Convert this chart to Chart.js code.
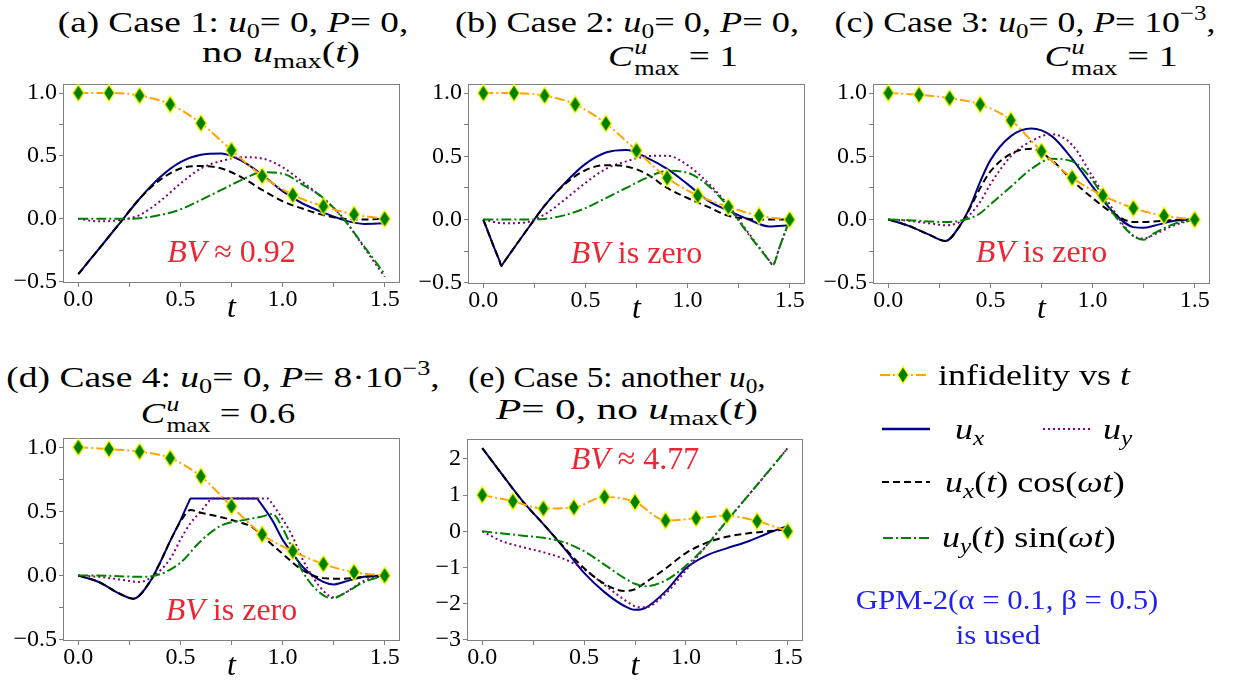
<!DOCTYPE html>
<html>
<head>
<meta charset="utf-8">
<script src="https://cdn.jsdelivr.net/npm/chart.js@4.4.0/dist/chart.umd.min.js"></script>
<style>
  body { margin: 0; background: #fff; width: 1233px; height: 686px; overflow: hidden; position: relative; font-family: 'Liberation Serif', 'Times New Roman', serif; color: #000; }
  canvas { position: absolute; }
  .ttl { position: absolute; white-space: nowrap; font-size: 30px; line-height: 1; transform: translateX(-50%) scaleX(var(--sx, 1.2)); }
  .leg { position: absolute; white-space: nowrap; font-size: 30px; line-height: 1; transform-origin: left center; transform: scaleX(1.2); }
  sub { font-size: 0.7em; vertical-align: -0.3em; line-height: 0; }
  sup { font-size: 0.7em; vertical-align: 0.55em; line-height: 0; }
  .ss { display: inline-block; vertical-align: -0.42em; font-size: 0.7em; line-height: 1; margin-left: 1px; }
  .gpm { position: absolute; white-space: nowrap; font-size: 28px; line-height: 1; color: #2222ee; transform: translateX(-50%) scaleX(1.1); }
</style>
</head>
<body>

<!-- panel titles -->
<div class="ttl" style="left:233px;top:7px;--sx:1.24">(a) Case 1: <i>u</i><sub>0</sub>= 0, <i>P</i>= 0,</div>
<div class="ttl" style="left:281px;top:37px;--sx:1.35">no <i>u</i><sub>max</sub>(<i>t</i>)</div>
<div class="ttl" style="left:627px;top:7px;--sx:1.21">(b) Case 2: <i>u</i><sub>0</sub>= 0, <i>P</i>= 0,</div>
<div class="ttl" style="left:673px;top:37px;--sx:1.25"><i>C</i><span class="ss"><i>u</i><br>max</span> = 1</div>
<div class="ttl" style="left:1025px;top:7px;--sx:1.19">(c) Case 3: <i>u</i><sub>0</sub>= 0, <i>P</i>= 10<sup>−3</sup>,</div>
<div class="ttl" style="left:1111px;top:37px;--sx:1.28"><i>C</i><span class="ss"><i>u</i><br>max</span> = 1</div>
<div class="ttl" style="left:223px;top:362px;--sx:1.25">(d) Case 4: <i>u</i><sub>0</sub>= 0, <i>P</i>= 8·10<sup>−3</sup>,</div>
<div class="ttl" style="left:218px;top:394px;--sx:1.22"><i>C</i><span class="ss"><i>u</i><br>max</span> = 0.6</div>
<div class="ttl" style="left:617px;top:362px;--sx:1.11">(e) Case 5: another <i>u</i><sub>0</sub>,</div>
<div class="ttl" style="left:627px;top:394px;--sx:1.38"><i>P</i>= 0, no <i>u</i><sub>max</sub>(<i>t</i>)</div>

<canvas id="chartA" width="419" height="258" style="left:3px;top:70px"></canvas>
<canvas id="chartB" width="419" height="259" style="left:408px;top:70px"></canvas>
<canvas id="chartC" width="419" height="259" style="left:813px;top:70px"></canvas>
<canvas id="chartD" width="419" height="262" style="left:3px;top:424px"></canvas>
<canvas id="chartE" width="418" height="261" style="left:407px;top:425px"></canvas>

<!-- legend -->
<svg style="position:absolute;left:0;top:0" width="1233" height="686">
  <line x1="880" y1="375" x2="927" y2="375" stroke="#ffa500" stroke-width="2" stroke-dasharray="10 3 2 3"/>
  <polygon points="903,366.5 908.5,375 903,383.5 897.5,375" fill="#008000" stroke="#ffff00" stroke-width="1.3"/>
  <line x1="882" y1="429" x2="930" y2="429" stroke="#00008b" stroke-width="2.5"/>
  <line x1="1043" y1="429" x2="1091" y2="429" stroke="#800080" stroke-width="2" stroke-dasharray="2 3"/>
  <line x1="882" y1="482" x2="930" y2="482" stroke="#000" stroke-width="2" stroke-dasharray="7 4"/>
  <line x1="883" y1="538" x2="930" y2="538" stroke="#008000" stroke-width="2" stroke-dasharray="10 3 2 3"/>
</svg>
<div class="leg" style="left:938px;top:360px">infidelity vs <i>t</i></div>
<div class="leg" style="left:955px;top:414px"><i>u<sub>x</sub></i></div>
<div class="leg" style="left:1103px;top:414px"><i>u<sub>y</sub></i></div>
<div class="leg" style="left:945px;top:467px"><i>u<sub>x</sub></i>(<i>t</i>) cos(<i>ωt</i>)</div>
<div class="leg" style="left:942px;top:522px"><i>u<sub>y</sub></i>(<i>t</i>) sin(<i>ωt</i>)</div>
<div class="gpm" style="left:1007px;top:586px">GPM-2(α = 0.1, β = 0.5)</div>
<div class="gpm" style="left:998px;top:621px">is used</div>

<script>
const SERIF = "'Liberation Serif', 'Times New Roman', serif";

// time axes
const tGrid = [0, 0.1, 0.2, 0.3, 0.4, 0.5, 0.6, 0.7, 0.8, 0.9, 1.0, 1.1, 1.2, 1.3, 1.4, 1.5];
const tMarks = [0, 0.15, 0.3, 0.45, 0.6, 0.75, 0.9, 1.05, 1.2, 1.35, 1.5];

// (a) Case 1
const infA = [1.0, 1.0, 0.98, 0.91, 0.76, 0.545, 0.34, 0.19, 0.10, 0.035, 0.0];
const uxA = [-0.44, -0.24, -0.04, 0.16, 0.33, 0.45, 0.51, 0.52, 0.46, 0.35, 0.22, 0.12, 0.05, -0.01, -0.04, -0.035];
const uxCosA = [-0.44, -0.24, -0.04, 0.16, 0.31, 0.40, 0.42, 0.40, 0.33, 0.23, 0.14, 0.08, 0.03, 0.0, -0.005, 0.0];
const uyA = [0, -0.02, -0.01, 0.03, 0.14, 0.28, 0.40, 0.46, 0.49, 0.48, 0.41, 0.29, 0.16, 0.0, -0.23, -0.46];
const uySinA = [0, 0, 0, 0.005, 0.03, 0.075, 0.15, 0.23, 0.31, 0.37, 0.36, 0.27, 0.165, -0.005, -0.22, -0.44];

// (b) Case 2
const infB = [1.0, 1.0, 0.98, 0.91, 0.76, 0.545, 0.33, 0.19, 0.10, 0.03, 0.0];
const tBx = [0, 0.05, 0.08, 0.088, 0.1, 0.17, 0.25, 0.3, 0.4, 0.5, 0.6, 0.7, 0.8, 0.9, 1.0, 1.1, 1.2, 1.3, 1.4, 1.5];
const uxB = [0, -0.21, -0.33, -0.367, -0.34, -0.18, 0, 0.11, 0.29, 0.44, 0.53, 0.55, 0.49, 0.40, 0.28, 0.15, 0.07, 0.0, -0.055, -0.045];
const uxCosB = [0, -0.21, -0.33, -0.367, -0.34, -0.18, 0, 0.11, 0.28, 0.39, 0.43, 0.42, 0.36, 0.25, 0.17, 0.10, 0.03, 0.005, 0.0, 0.0];
const tBy = [0, 0.1, 0.2, 0.3, 0.4, 0.5, 0.6, 0.7, 0.8, 0.9, 1.0, 1.1, 1.2, 1.3, 1.4, 1.417, 1.45, 1.5];
const uyB = [0, -0.03, -0.025, 0.04, 0.16, 0.29, 0.40, 0.46, 0.50, 0.505, 0.43, 0.29, 0.11, -0.11, -0.325, -0.36, -0.22, 0];
const uySinB = [0, 0, 0, 0.005, 0.035, 0.09, 0.17, 0.25, 0.33, 0.385, 0.37, 0.27, 0.10, -0.12, -0.325, -0.36, -0.22, 0];

// (c) Case 3
const infC = [1.0, 0.987, 0.96, 0.91, 0.785, 0.54, 0.33, 0.19, 0.09, 0.03, 0.0];
const tC = [0, 0.1, 0.2, 0.28, 0.35, 0.4, 0.45, 0.5, 0.6, 0.7, 0.8, 0.9, 1.0, 1.1, 1.2, 1.25, 1.3, 1.4, 1.5];
const uxC = [0, -0.05, -0.12, -0.17, -0.05, 0.1, 0.3, 0.47, 0.66, 0.72, 0.66, 0.48, 0.26, 0.06, -0.06, -0.065, -0.05, -0.01, 0];
const uxCosC = [0, -0.05, -0.12, -0.17, -0.05, 0.09, 0.25, 0.38, 0.52, 0.56, 0.47, 0.31, 0.17, 0.05, -0.02, -0.02, -0.015, -0.005, 0];
const uyC = [0, -0.01, -0.03, -0.045, -0.02, 0.04, 0.14, 0.28, 0.5, 0.62, 0.675, 0.59, 0.34, 0.08, -0.13, -0.15, -0.12, -0.045, 0];
const uySinC = [0, -0.005, -0.015, -0.02, -0.01, 0.01, 0.05, 0.12, 0.26, 0.40, 0.48, 0.46, 0.31, 0.05, -0.13, -0.16, -0.11, -0.035, 0];

// (d) Case 4
const infD = [1.0, 0.985, 0.966, 0.915, 0.773, 0.54, 0.32, 0.19, 0.09, 0.026, 0.0];
const tDx = [0, 0.1, 0.2, 0.27, 0.35, 0.4, 0.45, 0.5, 0.54, 0.55, 0.7, 0.875, 0.885, 0.95, 1.0, 1.05, 1.1, 1.2, 1.25, 1.3, 1.4, 1.5];
const uxD = [0, -0.05, -0.14, -0.18, -0.05, 0.1, 0.27, 0.43, 0.57, 0.6, 0.6, 0.6, 0.58, 0.43, 0.28, 0.17, 0.065, -0.05, -0.07, -0.05, -0.01, 0];
const tDxc = [0, 0.1, 0.2, 0.27, 0.35, 0.4, 0.45, 0.5, 0.55, 0.6, 0.7, 0.8, 0.85, 0.9, 1.0, 1.1, 1.2, 1.3, 1.4, 1.5];
const uxCosD = [0, -0.05, -0.14, -0.18, -0.05, 0.1, 0.27, 0.42, 0.51, 0.49, 0.455, 0.41, 0.38, 0.31, 0.17, 0.04, -0.02, -0.025, -0.01, 0];
const tDy = [0, 0.1, 0.2, 0.3, 0.37, 0.45, 0.5, 0.55, 0.6, 0.64, 0.65, 0.8, 0.93, 0.94, 1.0, 1.05, 1.1, 1.2, 1.25, 1.3, 1.4, 1.5];
const uyD = [0, -0.01, -0.03, -0.05, 0, 0.13, 0.28, 0.41, 0.5, 0.58, 0.6, 0.6, 0.6, 0.58, 0.44, 0.3, 0.12, -0.12, -0.17, -0.14, -0.04, 0];
const tDys = [0, 0.1, 0.2, 0.3, 0.4, 0.5, 0.6, 0.7, 0.8, 0.9, 0.95, 1.0, 1.05, 1.1, 1.2, 1.25, 1.3, 1.4, 1.5];
const uySinD = [0, 0, -0.005, -0.01, 0.01, 0.1, 0.27, 0.39, 0.43, 0.46, 0.48, 0.37, 0.2, 0.025, -0.155, -0.175, -0.14, -0.05, 0];

// (e) Case 5
const infE = [1.0, 0.83, 0.63, 0.66, 0.95, 0.81, 0.30, 0.36, 0.43, 0.28, 0.0];
const tE = [0, 0.1, 0.2, 0.3, 0.4, 0.5, 0.6, 0.7, 0.75, 0.8, 0.9, 1.0, 1.1, 1.2, 1.3, 1.4, 1.5];
const uxE = [2.3, 1.55, 0.82, 0.2, -0.45, -1.15, -1.68, -2.07, -2.17, -2.12, -1.66, -1.02, -0.67, -0.47, -0.29, -0.06, 0.15];
const uxCosE = [2.3, 1.55, 0.82, 0.2, -0.43, -1.02, -1.45, -1.65, -1.6, -1.42, -1.03, -0.6, -0.32, -0.15, -0.06, 0.0, 0.05];
const uyE = [0, -0.28, -0.44, -0.58, -0.76, -1.05, -1.48, -1.9, -2.07, -2.1, -1.72, -1.08, -0.4, 0.28, 0.95, 1.62, 2.3];
const uySinE = [0, -0.06, -0.12, -0.18, -0.3, -0.55, -0.92, -1.3, -1.45, -1.52, -1.36, -0.95, -0.4, 0.28, 0.95, 1.62, 2.3];

// tick label texts
const xTickLabels = { 0: '0.0', 0.5: '0.5', 1: '1.0', 1.5: '1.5' };
const yTickLabels = { '-0.5': '\u22120.5', 0: '0.0', 0.5: '0.5', 1: '1.0' };
const yTickLabelsE = { '-3': '\u22123', '-2': '\u22122', '-1': '\u22121', 0: '0', 1: '1', 2: '2' };

const pts = (ts, ys) => ts.map((t, i) => ({ x: t, y: ys[i] }));

// thin diamond marker
const diamond = document.createElement('canvas');
diamond.width = 14;
diamond.height = 20;
(function() {
    const g = diamond.getContext('2d');
    g.beginPath();
    g.moveTo(7, 1.5); g.lineTo(12.5, 10); g.lineTo(7, 18.5); g.lineTo(1.5, 10);
    g.closePath();
    g.fillStyle = '#008000';
    g.fill();
    g.strokeStyle = '#ffff00';
    g.lineWidth = 1.3;
    g.stroke();
})();

function curve(data, color, dash) {
    return {
        data: data, borderColor: color, borderWidth: 2, borderDash: dash,
        pointRadius: 0, cubicInterpolationMode: 'monotone', fill: false, clip: false
    };
}

// axes frame
const framePlugin = {
    id: 'frame',
    beforeDatasetsDraw(chart) {
        const { ctx, chartArea: a } = chart;
        ctx.save();
        ctx.strokeStyle = '#808080';
        ctx.lineWidth = 1;
        ctx.strokeRect(Math.round(a.left) + 0.5, Math.round(a.top) + 0.5,
            Math.round(a.right - a.left) - 1, Math.round(a.bottom - a.top) - 1);
        ctx.restore();
    }
};

// red "BV ..." note
const bvPlugin = {
    id: 'bvNote',
    afterDatasetsDraw(chart, args, opts) {
        if (!opts.rest) return;
        const { ctx, chartArea: a, scales } = chart;
        const y = scales.y.getPixelForValue(opts.y);
        ctx.save();
        ctx.fillStyle = '#ec2634';
        ctx.textBaseline = 'middle';
        const fItal = 'italic 32px ' + SERIF;
        const fRom = '32px ' + SERIF;
        ctx.font = fItal;
        const w1 = ctx.measureText('BV').width;
        ctx.font = fRom;
        const w2 = ctx.measureText(opts.rest).width;
        let x = (a.left + a.right) / 2 - (w1 + w2) / 2;
        ctx.font = fItal;
        ctx.fillText('BV', x, y);
        ctx.font = fRom;
        ctx.fillText(opts.rest, x + w1, y);
        ctx.restore();
    }
};

function makePanel(id, sets, yMin, yMax, yStep, yLabels, bv) {
    const tickFont = { family: SERIF, size: 24, lineHeight: 1 };
    const gridOpts = { display: true, drawOnChartArea: false, drawTicks: true, tickLength: 4, color: '#808080' };
    new Chart(document.getElementById(id), {
        type: 'line',
        data: {
            datasets: [
                {
                    data: sets.inf, borderColor: '#ffa500', borderWidth: 2, borderDash: [10, 3, 2, 3],
                    pointStyle: diamond, pointRadius: 8, cubicInterpolationMode: 'monotone', fill: false, clip: false
                },
                curve(sets.uySin, '#008000', [10, 3, 2, 3]),
                curve(sets.uxCos, '#000000', [7, 4]),
                curve(sets.uy, '#800080', [2, 3]),
                curve(sets.ux, '#00008b', [])
            ]
        },
        options: {
            responsive: false,
            animation: false,
            devicePixelRatio: 1,
            layout: { padding: { left: 0, right: 22, top: 14, bottom: 0 } },
            plugins: {
                legend: { display: false },
                tooltip: { enabled: false },
                bvNote: bv
            },
            scales: {
                x: {
                    type: 'linear', min: -0.075, max: 1.575,
                    grid: gridOpts, border: { display: false },
                    ticks: {
                        stepSize: 0.25, includeBounds: false, autoSkip: false, maxRotation: 0,
                        padding: 1, color: '#000', font: tickFont,
                        callback: v => xTickLabels[Math.round(v * 100) / 100] || ''
                    },
                    title: {
                        display: true, text: 't', color: '#000',
                        font: { family: SERIF, size: 32, style: 'italic', lineHeight: 1 },
                        padding: { top: 0, bottom: 3 }
                    },
                    afterFit: s => { s.height = 45; }
                },
                y: {
                    type: 'linear', min: yMin, max: yMax,
                    grid: gridOpts, border: { display: false },
                    ticks: {
                        stepSize: yStep, includeBounds: false, autoSkip: false,
                        padding: 2, color: '#000', font: tickFont,
                        callback: v => yLabels[Math.round(v * 100) / 100] || ''
                    },
                    afterFit: s => { s.width = 60; }
                }
            }
        },
        plugins: [framePlugin, bvPlugin]
    });
}

makePanel('chartA', {
    inf: pts(tMarks, infA), ux: pts(tGrid, uxA), uxCos: pts(tGrid, uxCosA),
    uy: pts(tGrid, uyA), uySin: pts(tGrid, uySinA)
}, -0.51, 1.072, 0.25, yTickLabels, { y: -0.28, rest: ' \u2248 0.92' });

makePanel('chartB', {
    inf: pts(tMarks, infB), ux: pts(tBx, uxB), uxCos: pts(tBx, uxCosB),
    uy: pts(tBy, uyB), uySin: pts(tBy, uySinB)
}, -0.51, 1.072, 0.25, yTickLabels, { y: -0.28, rest: ' is zero' });

makePanel('chartC', {
    inf: pts(tMarks, infC), ux: pts(tC, uxC), uxCos: pts(tC, uxCosC),
    uy: pts(tC, uyC), uySin: pts(tC, uySinC)
}, -0.51, 1.072, 0.25, yTickLabels, { y: -0.27, rest: ' is zero' });

makePanel('chartD', {
    inf: pts(tMarks, infD), ux: pts(tDx, uxD), uxCos: pts(tDxc, uxCosD),
    uy: pts(tDy, uyD), uySin: pts(tDys, uySinD)
}, -0.51, 1.072, 0.25, yTickLabels, { y: -0.28, rest: ' is zero' });

makePanel('chartE', {
    inf: pts(tMarks, infE), ux: pts(tE, uxE), uxCos: pts(tE, uxCosE),
    uy: pts(tE, uyE), uySin: pts(tE, uySinE)
}, -3.03, 2.55, 1, yTickLabelsE, { y: 1.96, rest: ' \u2248 4.77' });
</script>
</body>
</html>
